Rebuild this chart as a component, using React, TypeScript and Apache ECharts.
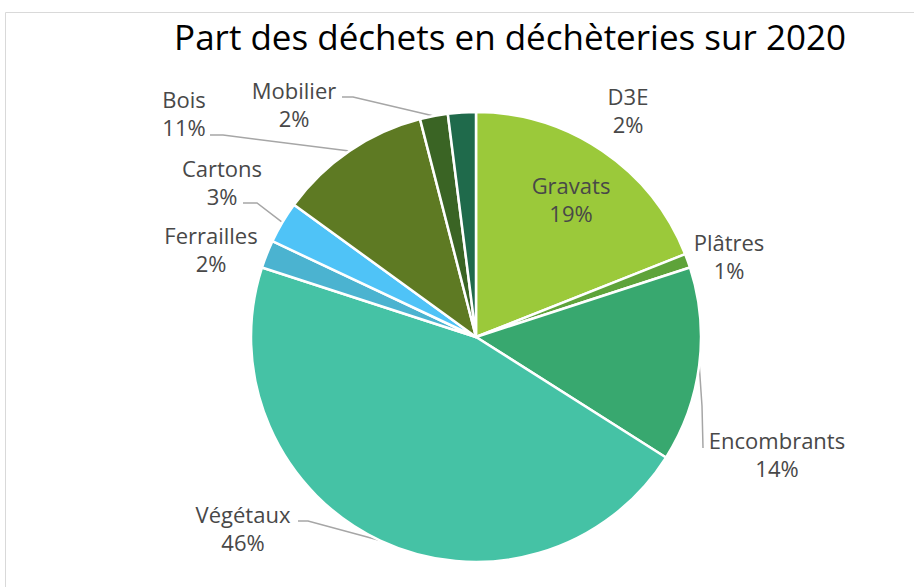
import React, { useEffect, useRef } from "react";
import * as echarts from "echarts";

const categories = ["Gravats", "Plâtres", "Encombrants", "Végétaux", "Ferrailles", "Cartons", "Bois", "Mobilier", "D3E"];
const values = [19, 1, 14, 46, 2, 3, 11, 2, 2];
const colors = ["#9BC93A", "#5EA33A", "#38A86F", "#45C2A5", "#4BB3D0", "#4FC3F7", "#5E7A23", "#3A6424", "#1F6A4B"];
const labelPos: [number, number][] = [
  [571, 199], [729, 256], [777, 454], [243, 528], [211, 249], [222, 182], [184, 113], [294, 104], [628, 110],
];
// leader line bends / ends (null = no line)
const lineBends: ([number, number][] | null)[] = [
  null,
  null,
  [[702, 406], [703, 448]],
  [[308, 521], [298, 521]],
  null,
  [[257, 203], [243, 203]],
  [[223, 135], [210, 135]],
  [[353, 97], [342, 97]],
  null,
];

export default function App() {
  const ref = useRef<HTMLDivElement>(null);
  useEffect(() => {
    if (!ref.current) return;
    const chart = echarts.init(ref.current, null, { renderer: "svg" });
    const font = "'Open Sans', 'Noto Sans', sans-serif";
    chart.setOption({
      animation: false,
      backgroundColor: "#ffffff",
      title: {
        text: "Part des déchets en déchèteries sur 2020",
        left: 505,
        top: 14,
        textAlign: "center",
        textStyle: { fontFamily: font, fontSize: 35, fontWeight: "normal", color: "#000000" },
      },
      graphic: [
        {
          type: "rect",
          shape: { x: 5.5, y: 12.5, width: 940, height: 600 },
          style: { fill: "none", stroke: "#d9d9d9", lineWidth: 1 },
          silent: true,
        },
      ],
      series: [
        {
          type: "pie",
          center: [476, 337],
          radius: 225,
          startAngle: 90,
          clockwise: true,
          percentPrecision: 0,
          itemStyle: { borderColor: "#ffffff", borderWidth: 2.5 },
          label: {
            show: true,
            formatter: "{b}\n{d}%",
            fontFamily: font,
            fontSize: 22,
            lineHeight: 28,
            color: "#484848",
            align: "center",
          },
          labelLine: { show: true, lineStyle: { color: "#a6a6a6", width: 1.5 } },
          labelLayout: (p: any) => {
            const i = p.dataIndex;
            const out: any = {
              x: labelPos[i][0],
              y: labelPos[i][1],
              align: "center",
              verticalAlign: "middle",
            };
            const b = lineBends[i];
            if (b && p.labelLinePoints && p.labelLinePoints[0]) {
              out.labelLinePoints = [p.labelLinePoints[0], b[0], b[1]];
            }
            return out;
          },
          data: categories.map((name, i) => ({
            name,
            value: values[i],
            itemStyle: { color: colors[i] },
            labelLine: { show: lineBends[i] !== null },
          })),
        },
      ],
    });
    return () => chart.dispose();
  }, []);
  return <div ref={ref} style={{ position: "fixed", left: 0, top: 0, width: 914, height: 587 }} />;
}
